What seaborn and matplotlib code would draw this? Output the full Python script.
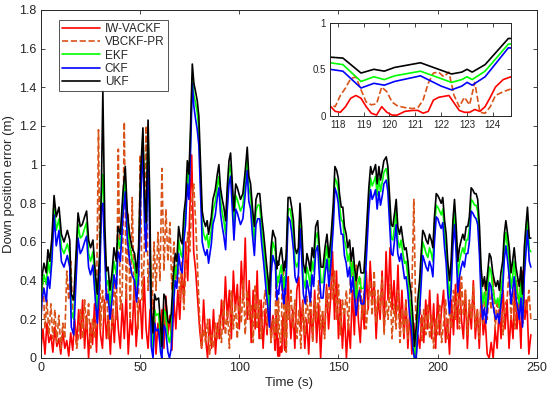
import numpy as np
import pandas as pd
import matplotlib
matplotlib.use("Agg")
import matplotlib.pyplot as plt
import seaborn as sns

# time axis of the smooth filters (UKF / EKF / CKF), seconds
t_kf = [0, 0.5, 1.5, 2.7, 3.5, 4.4, 5.5, 6.6, 7.7, 9.1,
        10.3, 11.6, 13.3, 14.5, 15.3, 16.5, 17.5, 18.7, 19.8, 20.8,
        22, 23, 24, 25, 26.2, 27.4, 28.4, 29.6, 30.5, 31.2,
        32.2, 33, 33.8, 34.8, 35.8, 36.8, 38, 38.8, 40, 41.3,
        42.5, 43.5, 44.7, 45.9, 47.2, 48.2, 49.2, 50.2, 51.4, 52.2,
        53, 54, 54.8, 55.6, 56.5, 57.3, 58.1, 59.3, 60.3, 60.9,
        62, 62.8, 64, 64.8, 65.7, 66.7, 67.7, 68.5, 69.4, 70.4,
        71.2, 72.1, 72.9, 73.8, 74.6, 75.4, 76.3, 77.1, 77.9, 78.8,
        79.6, 80.4, 81.3, 82.1, 83, 83.8, 84.5, 85.9, 86.7, 87.9,
        88.9, 89.7, 90.5, 91.4, 92.2, 93.1, 93.9, 94.8, 95.6, 96.5,
        97.3, 98.2, 99, 100.6, 101.8, 103, 104, 104.8, 105.7, 106.6,
        107.6, 108.4, 109.3, 110.3, 111.3, 112.3, 113.6, 114.4, 115.2, 116,
        116.9, 117.7, 118.2, 118.9, 119.4, 119.8, 120.2, 121.2, 122, 122.4,
        122.8, 123, 123.2, 123.7, 124.6, 125.6, 126.4, 127.3, 128.1, 128.9,
        129.8, 130.6, 131.4, 132.3, 133.3, 134.1, 135, 135.8, 136.7, 137.5,
        138.5, 139.5, 140.4, 141.2, 142.2, 143.2, 144.2, 145.2, 146.2, 147.4,
        148.2, 149.1, 149.9, 150.5, 151.4, 152.2, 153, 153.9, 154.7, 155.6,
        156.4, 157.3, 158.1, 158.9, 159.8, 160.6, 161.4, 162.8, 163.6, 164.5,
        165.3, 166.2, 167, 167.8, 168.7, 169.5, 170.4, 171.2, 172.1, 172.9,
        174.1, 174.9, 175.7, 176.6, 177.4, 178.3, 179.1, 179.9, 180.8, 181.6,
        182.5, 183.3, 184.1, 185, 185.8, 186.7, 187.5, 188.3, 189.2, 190,
        190.9, 191.7, 192.5, 193.4, 194.2, 195.1, 195.9, 196.8, 197.6, 198.4,
        199.3, 200.1, 201, 201.8, 202.6, 203.5, 204.3, 205.1, 206, 206.8,
        207.7, 208.5, 209.3, 210.2, 211, 211.9, 212.7, 213.5, 214.4, 215.2,
        216, 216.9, 217.7, 218.6, 219.4, 220.2, 221.1, 221.9, 222.7, 223.6,
        224.4, 225.2, 226.1, 226.9, 227.8, 228.6, 229.4, 230.3, 231.1, 231.9,
        232.8, 233.6, 234.4, 235.3, 236.1, 237, 237.8, 238.6, 239.5, 240.3,
        241.2, 242, 242.8, 243.7, 244.5, 245.3, 246.2, 247]

ukf = [0.30, 0.42, 0.49, 0.44, 0.56, 0.50, 0.62, 0.84, 0.73, 0.78,
       0.64, 0.60, 0.66, 0.61, 0.33, 0.30, 0.50, 0.75, 0.68, 0.69,
       0.73, 0.76, 0.61, 0.57, 0.61, 0.44, 0.33, 0.54, 0.90, 1.38,
       0.68, 0.45, 0.47, 0.35, 0.44, 0.57, 0.50, 0.68, 0.64, 0.85,
       0.99, 0.76, 0.64, 0.57, 0.54, 0.44, 0.57, 0.95, 1.19, 0.85,
       0.70, 1.23, 0.85, 0.25, 0.13, 0.33, 0.30, 0.31, 0.18, 0.06,
       0.33, 0.31, 0.19, 0.18, 0.23, 0.42, 0.54, 0.50, 0.68, 0.61,
       0.59, 0.75, 0.82, 1.02, 0.95, 1.19, 1.52, 1.42, 1.38, 1.33,
       1.25, 1.02, 0.76, 0.71, 0.68, 0.71, 0.64, 0.73, 0.82, 0.87,
       0.95, 1.00, 0.88, 0.82, 0.78, 0.71, 0.88, 1.02, 1.06, 0.90,
       0.76, 0.90, 0.88, 0.82, 0.85, 0.97, 1.09, 0.94, 0.90, 0.78,
       0.68, 0.82, 0.85, 0.85, 0.73, 0.64, 0.50, 0.42, 0.33, 0.57,
       0.66, 0.63, 0.62, 0.46, 0.50, 0.48, 0.52, 0.57, 0.49, 0.45,
       0.47, 0.50, 0.47, 0.55, 0.83, 0.83, 0.78, 0.71, 0.57, 0.54,
       0.57, 0.80, 0.68, 0.49, 0.44, 0.54, 0.50, 0.45, 0.57, 0.52,
       0.68, 0.71, 0.57, 0.47, 0.47, 0.57, 0.64, 0.52, 0.62, 0.80,
       0.99, 0.97, 0.93, 0.85, 0.78, 0.78, 0.68, 0.64, 0.57, 0.61,
       0.50, 0.57, 0.47, 0.40, 0.47, 0.50, 0.44, 0.44, 0.57, 0.73,
       0.88, 0.99, 0.95, 0.97, 1.00, 0.90, 0.99, 0.92, 0.97, 1.02,
       1.04, 0.99, 0.85, 0.69, 0.68, 0.75, 0.82, 0.68, 0.64, 0.68,
       0.61, 0.56, 0.57, 0.50, 0.40, 0.33, 0.21, 0.06, 0.16, 0.30,
       0.40, 0.54, 0.66, 0.64, 0.61, 0.59, 0.64, 0.61, 0.57, 0.73,
       0.85, 0.84, 0.82, 0.80, 0.83, 0.71, 0.64, 0.50, 0.40, 0.50,
       0.71, 0.82, 0.69, 0.50, 0.57, 0.61, 0.64, 0.61, 0.68, 0.68,
       0.73, 0.88, 0.87, 0.85, 0.85, 0.82, 0.68, 0.47, 0.37, 0.42,
       0.35, 0.44, 0.54, 0.52, 0.44, 0.40, 0.37, 0.40, 0.35, 0.44,
       0.50, 0.64, 0.71, 0.64, 0.57, 0.44, 0.50, 0.57, 0.47, 0.42,
       0.37, 0.47, 0.33, 0.57, 0.68, 0.78, 0.62, 0.62]

ekf = [0.25, 0.36, 0.43, 0.38, 0.50, 0.44, 0.56, 0.80, 0.66, 0.72,
       0.57, 0.54, 0.59, 0.54, 0.24, 0.20, 0.43, 0.69, 0.62, 0.63,
       0.67, 0.70, 0.54, 0.50, 0.55, 0.37, 0.25, 0.47, 0.84, 0.95,
       0.60, 0.38, 0.40, 0.27, 0.37, 0.50, 0.43, 0.62, 0.57, 0.80,
       0.92, 0.70, 0.58, 0.51, 0.48, 0.37, 0.50, 0.88, 1.15, 0.78,
       0.63, 1.15, 0.76, 0.15, 0.05, 0.25, 0.22, 0.23, 0.10, 0.02,
       0.25, 0.23, 0.11, 0.08, 0.14, 0.34, 0.47, 0.43, 0.61, 0.54,
       0.52, 0.68, 0.76, 0.96, 0.89, 1.13, 1.46, 1.36, 1.32, 1.27,
       1.18, 0.95, 0.69, 0.64, 0.61, 0.64, 0.57, 0.66, 0.76, 0.81,
       0.89, 0.94, 0.82, 0.75, 0.71, 0.64, 0.82, 0.96, 1.00, 0.84,
       0.69, 0.84, 0.82, 0.76, 0.79, 0.91, 1.03, 0.88, 0.84, 0.71,
       0.61, 0.76, 0.79, 0.79, 0.66, 0.57, 0.42, 0.34, 0.24, 0.50,
       0.60, 0.57, 0.55, 0.37, 0.42, 0.39, 0.43, 0.48, 0.40, 0.36,
       0.39, 0.42, 0.39, 0.48, 0.77, 0.77, 0.72, 0.64, 0.50, 0.47,
       0.50, 0.74, 0.61, 0.41, 0.36, 0.47, 0.43, 0.37, 0.50, 0.45,
       0.62, 0.65, 0.50, 0.39, 0.39, 0.50, 0.58, 0.45, 0.56, 0.74,
       0.93, 0.91, 0.87, 0.79, 0.71, 0.71, 0.61, 0.57, 0.50, 0.54,
       0.42, 0.50, 0.39, 0.31, 0.39, 0.42, 0.36, 0.36, 0.50, 0.67,
       0.82, 0.93, 0.89, 0.91, 0.94, 0.84, 0.93, 0.86, 0.91, 0.96,
       0.98, 0.93, 0.79, 0.62, 0.61, 0.68, 0.76, 0.61, 0.57, 0.61,
       0.54, 0.49, 0.50, 0.42, 0.31, 0.24, 0.12, 0.00, 0.07, 0.21,
       0.32, 0.47, 0.60, 0.57, 0.54, 0.52, 0.57, 0.54, 0.50, 0.67,
       0.79, 0.78, 0.76, 0.74, 0.77, 0.64, 0.57, 0.42, 0.31, 0.42,
       0.65, 0.76, 0.62, 0.42, 0.50, 0.54, 0.57, 0.54, 0.61, 0.61,
       0.67, 0.82, 0.81, 0.79, 0.79, 0.76, 0.61, 0.39, 0.28, 0.34,
       0.26, 0.36, 0.47, 0.45, 0.36, 0.31, 0.28, 0.31, 0.26, 0.36,
       0.42, 0.58, 0.65, 0.57, 0.50, 0.36, 0.42, 0.50, 0.39, 0.34,
       0.28, 0.39, 0.24, 0.50, 0.61, 0.72, 0.56, 0.55]

ckf = [0.20, 0.30, 0.36, 0.29, 0.42, 0.36, 0.50, 0.74, 0.58, 0.66,
       0.50, 0.47, 0.53, 0.47, 0.16, 0.12, 0.36, 0.62, 0.54, 0.56,
       0.60, 0.63, 0.47, 0.43, 0.48, 0.30, 0.18, 0.40, 0.78, 0.80,
       0.52, 0.30, 0.33, 0.20, 0.30, 0.43, 0.36, 0.55, 0.50, 0.73,
       0.86, 0.62, 0.50, 0.43, 0.40, 0.29, 0.42, 0.80, 1.10, 0.70,
       0.55, 1.05, 0.66, 0.06, 0.00, 0.18, 0.14, 0.15, 0.03, 0.00,
       0.17, 0.15, 0.03, 0.00, 0.05, 0.26, 0.40, 0.36, 0.54, 0.46,
       0.44, 0.61, 0.69, 0.90, 0.82, 1.06, 1.42, 1.30, 1.24, 1.18,
       1.10, 0.86, 0.60, 0.56, 0.53, 0.56, 0.49, 0.59, 0.69, 0.74,
       0.83, 0.88, 0.75, 0.68, 0.63, 0.56, 0.76, 0.90, 0.94, 0.77,
       0.61, 0.77, 0.75, 0.69, 0.72, 0.85, 0.97, 0.81, 0.77, 0.64,
       0.53, 0.69, 0.72, 0.72, 0.59, 0.49, 0.34, 0.26, 0.16, 0.43,
       0.53, 0.50, 0.48, 0.30, 0.35, 0.33, 0.37, 0.43, 0.32, 0.28,
       0.32, 0.36, 0.33, 0.42, 0.73, 0.71, 0.65, 0.56, 0.42, 0.39,
       0.43, 0.67, 0.53, 0.33, 0.28, 0.40, 0.35, 0.29, 0.43, 0.37,
       0.55, 0.58, 0.42, 0.31, 0.31, 0.43, 0.51, 0.37, 0.49, 0.68,
       0.88, 0.85, 0.80, 0.72, 0.64, 0.64, 0.53, 0.49, 0.42, 0.47,
       0.34, 0.42, 0.31, 0.22, 0.31, 0.35, 0.28, 0.28, 0.42, 0.60,
       0.76, 0.87, 0.82, 0.84, 0.87, 0.77, 0.86, 0.79, 0.84, 0.90,
       0.92, 0.86, 0.71, 0.54, 0.53, 0.61, 0.69, 0.54, 0.50, 0.54,
       0.47, 0.41, 0.42, 0.34, 0.23, 0.16, 0.05, 0.00, 0.00, 0.13,
       0.24, 0.39, 0.53, 0.50, 0.47, 0.45, 0.50, 0.47, 0.42, 0.60,
       0.73, 0.72, 0.69, 0.67, 0.70, 0.57, 0.49, 0.34, 0.23, 0.35,
       0.58, 0.69, 0.55, 0.34, 0.42, 0.47, 0.50, 0.47, 0.54, 0.54,
       0.60, 0.76, 0.75, 0.73, 0.72, 0.69, 0.53, 0.31, 0.20, 0.26,
       0.18, 0.28, 0.39, 0.37, 0.28, 0.23, 0.20, 0.23, 0.18, 0.28,
       0.35, 0.51, 0.58, 0.50, 0.42, 0.28, 0.35, 0.42, 0.31, 0.26,
       0.20, 0.31, 0.16, 0.42, 0.54, 0.66, 0.50, 0.47]

# time axis of the two noisy adaptive filters (1 s, finer inside the inset window)
t_fine = [117.7, 117.9, 118.1, 118.3, 118.5, 118.7, 118.9, 119.1, 119.3, 119.5,
          119.7, 119.9, 120.1, 120.3, 120.6, 120.9, 121.1, 121.3, 121.5, 121.7,
          121.9, 122.1, 122.3, 122.5, 122.7, 122.9, 123.1, 123.3, 123.5, 123.7,
          123.9, 124.1, 124.4, 124.7]
t_noise = list(range(0, 118)) + t_fine + list(range(125, 248))

iw_vackf = [0.05, 0.15, 0.02, 0.18, 0.08, 0.12, 0.03, 0.16, 0.06, 0.10,
            0.02, 0.14, 0.05, 0.09, 0.01, 0.13, 0.04, 0.20, 0.08, 0.25,
            0.10, 0.30, 0.05, 0.22, 0.00, 0.18, 0.07, 0.28, 0.03, 0.35,
            0.12, 0.05, 0.30, 0.10, 0.22, 0.02, 0.25, 0.08, 0.32, 0.15,
            0.05, 0.28, 0.10, 0.35, 0.02, 0.20, 0.12, 0.38, 0.06, 0.22,
            0.30, 0.10, 0.42, 0.15, 0.05, 0.25, 0.10, 0.30, 0.02, 0.18,
            0.08, 0.25, 0.05, 0.32, 0.12, 0.22, 0.04, 0.30, 0.15, 0.35,
            0.20, 0.45, 0.30, 0.60, 0.40, 0.75, 1.05, 0.55, 0.45, 0.30,
            0.15, 0.05, 0.30, 0.10, 0.00, 0.20, 0.05, 0.25, 0.02, 0.18,
            0.10, 0.30, 0.15, 0.42, 0.20, 0.35, 0.10, 0.45, 0.25, 0.38,
            0.15, 0.50, 0.30, 0.62, 0.20, 0.40, 0.08, 0.35, 0.15, 0.45,
            0.10, 0.30, 0.05, 0.25, 0.12, 0.40, 0.10, 0.22,
            # inset window
            0.11, 0.05, 0.04, 0.10, 0.19, 0.22, 0.19, 0.10, 0.03, 0.01,
            0.10, 0.04, 0.01, 0.01, 0.05, 0.06, 0.06, 0.03, 0.05, 0.17,
            0.20, 0.21, 0.22, 0.14, 0.06, 0.04, 0.04, 0.07, 0.05, 0.10,
            0.20, 0.31, 0.39, 0.42,
            0.30, 0.10, 0.25, 0.05, 0.35, 0.42, 0.15, 0.30, 0.05, 0.20,
            0.02, 0.25, 0.10, 0.35, 0.08, 0.28, 0.00, 0.22, 0.12, 0.38,
            0.15, 0.30, 0.55, 0.20, 0.45, 0.10, 0.30, 0.05, 0.25, 0.00,
            0.18, 0.05, 0.35, 0.12, 0.42, 0.20, 0.08, 0.30, 0.15, 0.45,
            0.25, 0.50, 0.30, 0.38, 0.10, 0.32, 0.20, 0.45, 0.15, 0.55,
            0.30, 0.57, 0.25, 0.40, 0.20, 0.48, 0.15, 0.35, 0.10, 0.30,
            0.05, 0.25, 0.02, 0.18, 0.00, 0.12, 0.05, 0.22, 0.08, 0.30,
            0.15, 0.35, 0.10, 0.28, 0.05, 0.33, 0.12, 0.25, 0.35, 0.08,
            0.20, 0.02, 0.30, 0.12, 0.38, 0.15, 0.42, 0.20, 0.10, 0.35,
            0.05, 0.28, 0.15, 0.40, 0.10, 0.25, 0.05, 0.32, 0.12, 0.20,
            0.02, 0.00, 0.08, 0.00, 0.15, 0.05, 0.25, 0.10, 0.35, 0.15,
            0.30, 0.05, 0.22, 0.10, 0.40, 0.15, 0.28, 0.05, 0.45, 0.20,
            0.30, 0.02, 0.12]

vbckf_pr = [0.20, 0.42, 0.15, 0.30, 0.12, 0.28, 0.10, 0.25, 0.08, 0.22,
            0.05, 0.18, 0.10, 0.45, 0.30, 0.50, 0.25, 0.15, 0.05, 0.12,
            0.25, 0.10, 0.30, 0.15, 0.28, 0.05, 0.20, 0.10, 0.30, 1.18,
            0.15, 0.35, 0.20, 0.40, 0.10, 0.30, 0.15, 0.42, 0.20, 1.08,
            0.25, 0.35, 1.22, 0.30, 0.75, 0.20, 0.83, 0.30, 0.45, 0.15,
            1.05, 0.30, 0.50, 1.20, 0.35, 0.55, 0.25, 0.60, 0.35, 0.65,
            0.40, 0.98, 0.45, 0.77, 0.50, 0.70, 0.35, 0.60, 0.40, 0.55,
            0.30, 0.50, 0.25, 0.45, 0.65, 0.55, 0.80, 0.90, 0.70, 0.45,
            0.20, 0.05, 0.15, 0.08, 0.20, 0.02, 0.12, 0.05, 0.18, 0.10,
            0.22, 0.08, 0.30, 0.12, 0.25, 0.05, 0.35, 0.15, 0.28, 0.10,
            0.32, 0.18, 0.40, 0.12, 0.35, 0.20, 0.28, 0.08, 0.38, 0.15,
            0.30, 0.10, 0.25, 0.35, 0.15, 0.30, 0.08, 0.20,
            # inset window
            0.12, 0.10, 0.22, 0.30, 0.40, 0.42, 0.28, 0.15, 0.12, 0.13,
            0.31, 0.26, 0.15, 0.11, 0.09, 0.08, 0.09, 0.17, 0.35, 0.46,
            0.47, 0.42, 0.47, 0.22, 0.10, 0.20, 0.12, 0.36, 0.04, 0.03,
            0.10, 0.22, 0.26, 0.29,
            0.20, 0.35, 0.15, 0.30, 0.10, 0.25, 0.05, 0.28, 0.12, 0.32,
            0.18, 0.35, 0.08, 0.30, 0.20, 0.40, 0.15, 0.25, 0.10, 0.35,
            0.25, 0.57, 0.30, 0.45, 0.20, 0.38, 0.12, 0.30, 0.22, 0.35,
            0.15, 0.40, 0.50, 0.30, 0.48, 0.25, 0.42, 0.20, 0.35, 0.15,
            0.30, 0.40, 0.22, 0.45, 0.18, 0.35, 0.25, 0.42, 0.12, 0.30,
            0.20, 0.38, 0.10, 0.28, 0.15, 0.35, 0.08, 0.25, 0.12, 0.30,
            0.10, 0.22, 0.35, 0.82, 0.20, 0.15, 0.30, 0.08, 0.25, 0.12,
            0.28, 0.10, 0.22, 0.05, 0.20, 0.12, 0.28, 0.08, 0.18, 0.30,
            0.10, 0.25, 0.15, 0.35, 0.20, 0.40, 0.15, 0.42, 0.22, 0.35,
            0.12, 0.30, 0.20, 0.38, 0.15, 0.25, 0.10, 0.32, 0.18, 0.40,
            0.20, 0.35, 0.25, 0.42, 0.15, 0.30, 0.20, 0.38, 0.12, 0.28,
            0.30, 0.45, 0.20, 0.35, 0.15, 0.40, 0.22, 0.45, 0.18, 0.30,
            0.25, 0.35, 0.20]

labels = ["IW-VACKF", "VBCKF-PR", "EKF", "CKF", "UKF"]
colors = ["#ff0000", "#d95319", "#00ff00", "#0000ff", "#000000"]

series = [(t_noise, iw_vackf, "-"), (t_noise, vbckf_pr, "--"),
          (t_kf, ekf, "-"), (t_kf, ckf, "-"), (t_kf, ukf, "-")]

sns.set_theme(style="white")
plt.rcParams["font.family"] = ["Liberation Sans", "DejaVu Sans"]
plt.rcParams["xtick.direction"] = "in"
plt.rcParams["ytick.direction"] = "in"


def draw(ax, lw, legend):
    for (t, v, ls), lab, col in zip(series, labels, colors):
        df = pd.DataFrame({"t": t, "v": v})
        sns.lineplot(data=df, x="t", y="v", ax=ax, color=col, linewidth=lw,
                     linestyle=ls, estimator=None, sort=False,
                     label=lab if legend else None, legend=legend)


def style_box(ax, size):
    for s in ax.spines.values():
        s.set_visible(True)
        s.set_color("#262626")
        s.set_linewidth(0.7)
    ax.tick_params(axis="both", which="both", direction="in", top=True,
                   right=True, bottom=True, left=True, length=3, width=0.6,
                   labelsize=size, colors="#262626", pad=3)


fig = plt.figure(figsize=(5.5, 3.96), dpi=100)
ax = fig.add_axes([0.0745, 0.096, 0.9015, 0.879])
draw(ax, 1.2, True)
ax.set_xlim(0, 250)
ax.set_ylim(0, 1.8)
ax.set_xticks(np.arange(0, 251, 50))
ax.set_yticks(np.arange(0, 1.81, 0.2))
ax.set_yticklabels(["0", "0.2", "0.4", "0.6", "0.8", "1", "1.2", "1.4", "1.6", "1.8"])
ax.set_xlabel("Time (s)", fontsize=9.5, labelpad=2)
ax.set_ylabel("Down position error (m)", fontsize=9.5, labelpad=3)
style_box(ax, 9)

leg = ax.legend(loc="upper left", bbox_to_anchor=(0.036, 0.972), fontsize=8.5,
                frameon=True, fancybox=False, handlelength=3.2, handletextpad=0.4,
                borderpad=0.3, labelspacing=0.1, borderaxespad=0)
leg.get_frame().set_edgecolor("#262626")
leg.get_frame().set_linewidth(0.7)

# zoomed inset
axin = fig.add_axes([0.6, 0.707, 0.329, 0.236])
draw(axin, 1.2, False)
axin.set_xlim(117.7, 124.7)
axin.set_ylim(0, 1)
axin.set_xticks(np.arange(118, 125, 1))
axin.set_yticks([0, 0.5, 1])
axin.set_yticklabels(["0", "0.5", "1"])
axin.set_xlabel("")
axin.set_ylabel("")
style_box(axin, 7)

fig.savefig("out.png", dpi=100)
